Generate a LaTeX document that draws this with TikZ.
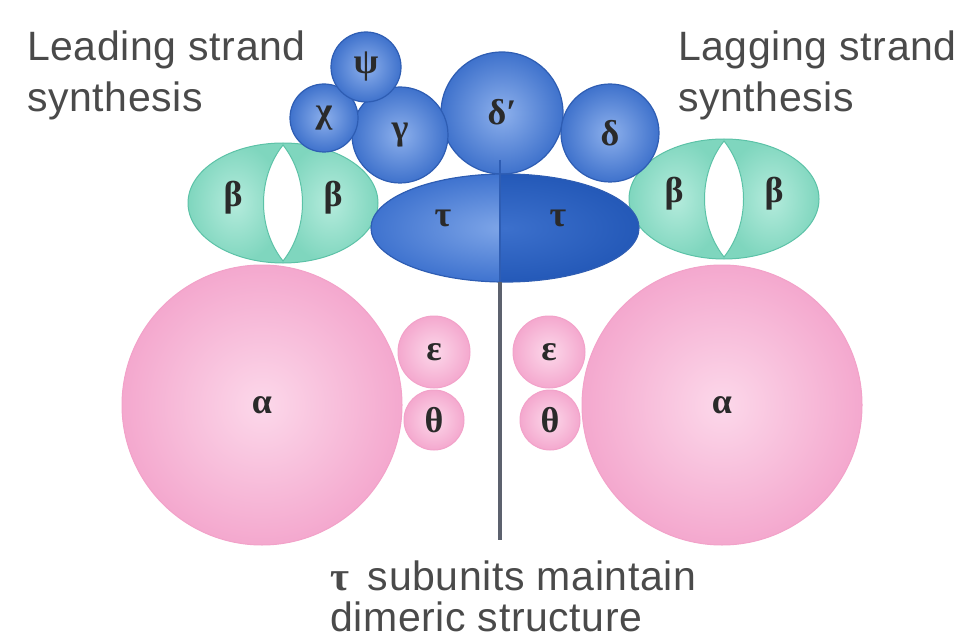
\documentclass[tikz,border=0pt]{standalone}
\usepackage{fontspec}
\setmainfont{Liberation Sans}[LetterSpace=1.5]
\newfontfamily\gr{Liberation Serif}
\usetikzlibrary{shapes.geometric}
\definecolor{txt}{HTML}{4A4A4A}
\definecolor{pinkin}{HTML}{FCD8EA}
\definecolor{pinkout}{HTML}{F4A8CE}
\definecolor{pinkline}{HTML}{F2A2C9}
\definecolor{bluein}{HTML}{8DB0EC}
\definecolor{blueout}{HTML}{3F72CC}
\definecolor{blueline}{HTML}{2E5DB3}
\definecolor{taulin}{HTML}{7FA6E8}
\definecolor{taulout}{HTML}{3F73CF}
\definecolor{taurin}{HTML}{3C70CC}
\definecolor{taurout}{HTML}{2459B8}
\definecolor{tealin}{HTML}{B4EBDC}
\definecolor{tealout}{HTML}{7FD6BE}
\definecolor{tealline}{HTML}{5CC2A7}
\definecolor{stem}{HTML}{5C616E}
\definecolor{glyphc}{HTML}{2A2A2A}
\tikzset{
  glyph/.style={font=\gr\bfseries\fontsize{36}{36}\selectfont, text=glyphc, inner sep=0pt},
  ball/.style={circle, inner sep=0pt, font=\gr\bfseries\fontsize{36}{36}\selectfont, text=glyphc},
  pinkball/.style={ball, draw=pinkline, line width=1pt, inner color=pinkin, outer color=pinkout},
  blueball/.style={ball, draw=blueline, line width=1.2pt, inner color=bluein, outer color=blueout},
  lbl/.style={font=\fontsize{41}{51}\selectfont, text=txt, align=left, inner sep=0pt},
}
\newcommand{\betapair}[2]{%
\begin{scope}[shift={(#1)}]
  \shade[inner color=tealin, outer color=tealout] (0,-60) arc[start angle=270, end angle=90, x radius=95, y radius=60] -- cycle;
  \shade[inner color=tealin, outer color=tealout] (0,-60) arc[start angle=-90, end angle=90, x radius=95, y radius=60] -- cycle;
  \draw[tealline, line width=1pt] (0,0) ellipse [x radius=95, y radius=60];
  \fill[white, draw=tealline, line width=1pt] (0,-58) .. controls (-26,-25) and (-26,25) .. (0,58) .. controls (26,25) and (26,-25) .. (0,-58) -- cycle;
  \node[glyph] (#2L) at (-50,-5) {β};
  \node[glyph] (#2R) at (50,-5) {β};
\end{scope}}
\begin{document}
\begin{tikzpicture}[x=1pt,y=-1pt]
\useasboundingbox (0,0) rectangle (968,644);
% alpha subunits
\node[pinkball, minimum size=280pt] (alphaL) at (262,405) {α};
\node[pinkball, minimum size=280pt] (alphaR) at (722,405) {α};
% epsilon theta
\node[pinkball, minimum size=60pt] (thetaL) at (434,420) {θ};
\node[pinkball, minimum size=72pt] (epsL) at (434,352) {ε};
\node[pinkball, minimum size=60pt] (thetaR) at (550,420) {θ};
\node[pinkball, minimum size=72pt] (epsR) at (549,352) {ε};
% beta clamps
\betapair{283,203}{betaA}
\betapair{724,199}{betaB}
% upper blue subunits (behind tau)
\node[blueball, minimum size=122pt] (deltap) at (502,113) {};
\node[glyph] (deltaplbl) at (502,112) {δ′};
% tau dimer
\begin{scope}
  \clip (360,160) rectangle (500,300);
  \shade[inner color=taulin, outer color=taulout] (505,228) ellipse [x radius=134, y radius=54];
\end{scope}
\begin{scope}
  \clip (500,160) rectangle (650,300);
  \shade[inner color=taurin, outer color=taurout] (505,228) ellipse [x radius=134, y radius=54];
\end{scope}
\node[ellipse, draw=blueline, line width=1.2pt, minimum width=268pt, minimum height=108pt, inner sep=0pt] (tau) at (505,228) {};
\node[glyph] (tauL) at (443,218) {τ};
\node[glyph] (tauR) at (558,218) {τ};
% other clamp loader subunits
\node[blueball, minimum size=96pt] (gamma) at (400,135) {γ};
\node[blueball, minimum size=98pt] (delta) at (610,133) {δ};
\node[blueball, minimum size=68pt] (chi) at (324,118) {χ};
\node[blueball, minimum size=70pt] (psi) at (366,67) {ψ};
% dimer connector
\coordinate (stemtop) at (500,160);
\coordinate (stemmid) at (500,282);
\coordinate (stemend) at (500,540);
\draw[blueline, line width=1.5pt] (stemtop) -- (stemmid);
\draw[stem, line width=4pt] (stemmid) -- (stemend);
% labels
\node[lbl, anchor=north west] (lead) at (27,31) {Leading strand\\synthesis};
\node[lbl, anchor=north west] (lag) at (678,31) {Lagging strand\\synthesis};
\node[lbl, anchor=north west, font=\fontsize{41}{41}\selectfont] (dimer) at (330,561) {{\gr\bfseries τ}\, subunits maintain\\dimeric structure};
\end{tikzpicture}
\end{document}
